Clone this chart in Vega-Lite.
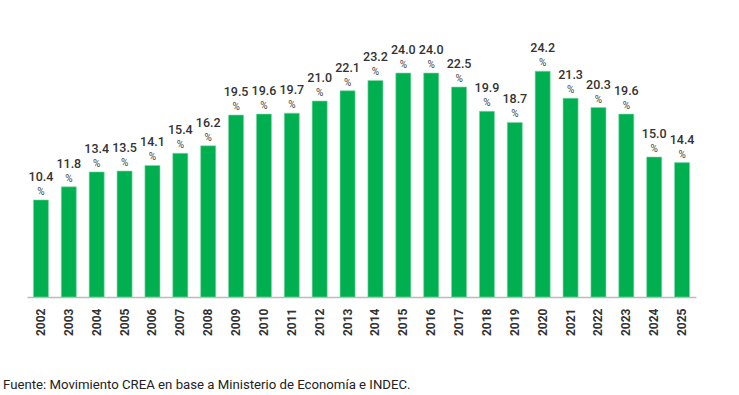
{
  "$schema": "https://vega.github.io/schema/vega-lite/v6.json",
  "autosize": {"type": "none"},
  "width": 669,
  "height": 280,
  "padding": {"left": 27, "top": 17, "right": 43, "bottom": 98},
  "background": "white",
  "config": {"view": {"stroke": null}, "font": "Roboto"},
  "title": {
    "text": "Fuente: Movimiento CREA en base a Ministerio de Economía e INDEC.",
    "orient": "bottom",
    "anchor": "start",
    "frame": "group",
    "dx": -24,
    "offset": 43,
    "fontSize": 13.2,
    "fontWeight": "normal",
    "color": "#222222",
    "font": "Roboto"
  },
  "data": {
    "values": [
      {"year": "2002", "value": 10.4},
      {"year": "2003", "value": 11.8},
      {"year": "2004", "value": 13.4},
      {"year": "2005", "value": 13.5},
      {"year": "2006", "value": 14.1},
      {"year": "2007", "value": 15.4},
      {"year": "2008", "value": 16.2},
      {"year": "2009", "value": 19.5},
      {"year": "2010", "value": 19.6},
      {"year": "2011", "value": 19.7},
      {"year": "2012", "value": 21.0},
      {"year": "2013", "value": 22.1},
      {"year": "2014", "value": 23.2},
      {"year": "2015", "value": 24.0},
      {"year": "2016", "value": 24.0},
      {"year": "2017", "value": 22.5},
      {"year": "2018", "value": 19.9},
      {"year": "2019", "value": 18.7},
      {"year": "2020", "value": 24.2},
      {"year": "2021", "value": 21.3},
      {"year": "2022", "value": 20.3},
      {"year": "2023", "value": 19.6},
      {"year": "2024", "value": 15.0},
      {"year": "2025", "value": 14.4}
    ]
  },
  "encoding": {
    "x": {
      "field": "year",
      "type": "ordinal",
      "scale": {"paddingInner": 0.46, "paddingOuter": 0.23},
      "axis": {
        "title": null,
        "labelAngle": -90,
        "labelFontSize": 12,
        "labelFontWeight": "bold",
        "labelColor": "#333333",
        "labelPadding": 11,
        "ticks": false,
        "domainColor": "#bbbbbb",
        "domainWidth": 1.5
      }
    },
    "y": {
      "field": "value",
      "type": "quantitative",
      "scale": {"domain": [0, 30]},
      "axis": null
    }
  },
  "layer": [
    {"mark": {"type": "bar", "color": "#00B050", "stroke": "#7fd8a6", "strokeWidth": 0.6}},
    {
      "mark": {"type": "text", "baseline": "bottom", "dy": -16, "fontSize": 12.5, "fontWeight": 500, "color": "#333333", "font": "Roboto"},
      "encoding": {"text": {"field": "value", "type": "quantitative", "format": ".1f"}}
    },
    {
      "mark": {"type": "text", "baseline": "bottom", "dy": -3, "fontSize": 10, "color": "#444444", "font": "Roboto", "text": "%"},
      "encoding": {}
    }
  ]
}
